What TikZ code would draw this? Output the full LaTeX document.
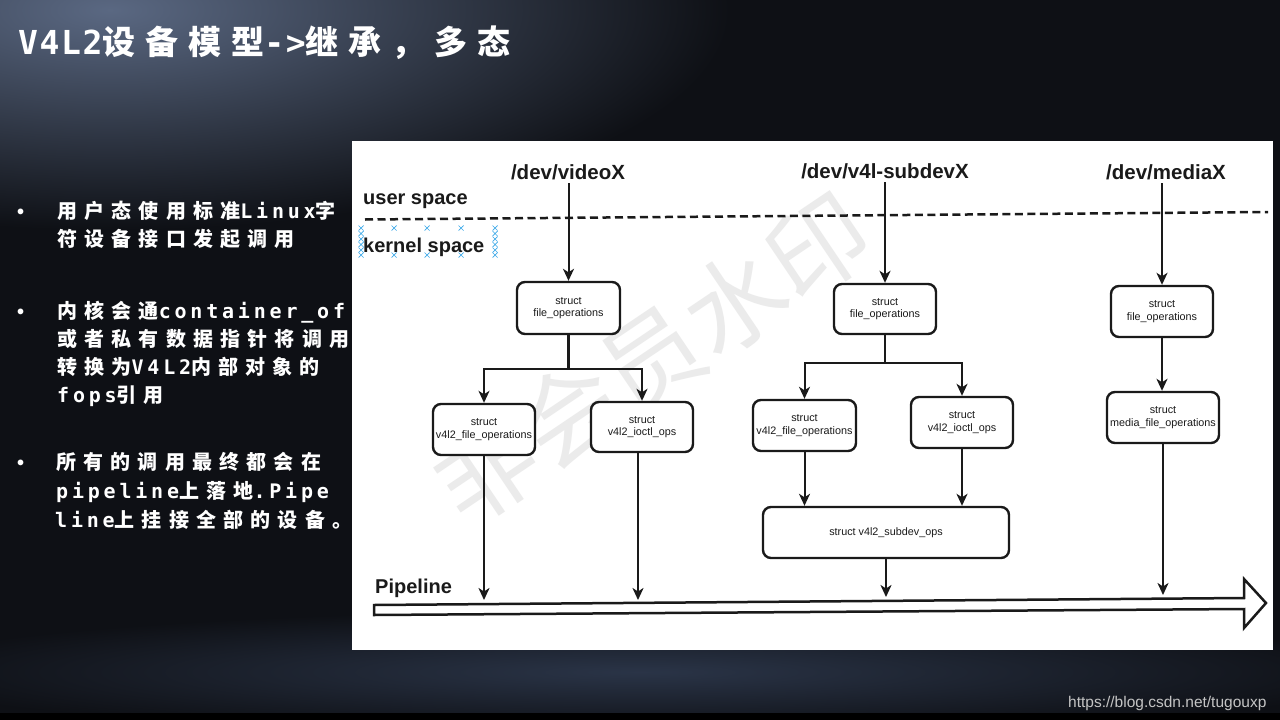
\documentclass[tikz,border=0pt]{standalone}
\usepackage{fontspec}
\usetikzlibrary{arrows.meta}
\setmainfont{Liberation Sans}
\newfontfamily\cjkt{Noto Sans CJK SC}[LetterSpace=30]
\newfontfamily\latt{DejaVu Sans Mono}[LetterSpace=5]
\newfontfamily\cjkb{Noto Sans CJK SC}[LetterSpace=36]
\newfontfamily\latb{DejaVu Sans Mono}[LetterSpace=19]
\newfontfamily\wmfont{Noto Sans CJK SC}
\definecolor{bgdark}{HTML}{0E1015}
\definecolor{bgtl}{HTML}{5A6882}
\definecolor{bgbot}{HTML}{2A3447}
\definecolor{wmgray}{HTML}{EBEBEB}
\definecolor{xblue}{HTML}{3AA8E8}
\definecolor{foot}{HTML}{C4C4C4}
\definecolor{ink}{HTML}{1A1A1A}
\tikzset{
  box/.style={draw=ink, line width=2.4pt, rounded corners=8pt, fill=white,
    align=center, inner sep=0pt, text=ink,
    font=\fontsize{10.8}{12.5}\selectfont},
  hdr/.style={font=\bfseries\fontsize{20.5}{24}\selectfont, text=ink},
  lbl/.style={font=\bfseries\fontsize{20}{24}\selectfont, text=ink, anchor=base west, inner sep=0pt},
  bl/.style={anchor=base west, inner sep=0pt, text=white, font=\bfseries\fontsize{20}{24}\selectfont},
  conn/.style={draw=ink, line width=2.4pt},
  arr/.style={draw=ink, line width=2pt, -{Stealth[length=12pt,width=11pt,inset=3.5pt]}},
}
\begin{document}
\begin{tikzpicture}[x=1pt,y=-1pt]
\useasboundingbox (0,0) rectangle (1280,720);
% background
\begin{scope}
\clip (0,0) rectangle (1280,720);
\fill[bgdark] (0,0) rectangle (1280,720);
\shade[inner color=bgtl, outer color=bgdark] (110,10) ellipse [x radius=620pt, y radius=220pt];
\shade[inner color=bgbot, outer color=bgdark] (640,672) ellipse [x radius=760pt, y radius=62pt];
\fill[black] (0,713) rectangle (1280,720);
\end{scope}
% title
\node[anchor=base west, inner sep=0pt, text=white, font=\bfseries\fontsize{33}{38}\selectfont] (title) at (18,54)
  {{\latt V4L2}{\cjkt 设备模型}{\latt ->}{\cjkt 继承，多态}};
% bullets
\foreach \y/\n in {218.5/d1, 318.5/d2, 469.5/d3} \node[bl] (\n) at (17,\y) {•};
\node[bl] (b1a) at (57,218.5) {{\cjkb 用户态使用标准}{\latb Linux}{\cjkb 字}};
\node[bl] (b1b) at (57,246.5) {{\cjkb 符设备接口发起调用}};
\node[bl] (b2a) at (57,318.5) {{\cjkb 内核会通}{\latb container\_of}};
\node[bl] (b2b) at (57,346.5) {{\cjkb 或者私有数据指针将调用}};
\node[bl] (b2c) at (57,374.5) {{\cjkb 转换为}{\latb V4L2}{\cjkb 内部对象的}};
\node[bl] (b2d) at (57,402.5) {{\latb fops}{\cjkb 引用}};
\node[bl] (b3a) at (56,469.5) {{\cjkb 所有的调用最终都会在}};
\node[bl] (b3b) at (56,498.5) {{\latb pipeline}{\cjkb 上落地}{\latb .Pipe}};
\node[bl] (b3c) at (55,527.5) {{\latb line}{\cjkb 上挂接全部的设备。}};
% footer
\node[anchor=base west, inner sep=0pt, text=foot, font=\fontsize{15.5}{18}\selectfont] (url) at (1068,707) {https://blog.csdn.net/tugouxp};
% panel
\fill[white] (352,141) rectangle (1273,650);
% watermark
\node[rotate=34, text=wmgray, font=\wmfont\fontsize{100}{100}\selectfont] (wm) at (652,358) {非会员水印};
% labels
\node[lbl] (us) at (363,204) {user space};
\node[lbl] (ks) at (363,252.5) {kernel space};
\foreach \x in {361,394,427,461,495} {
  \foreach \y in {228,255} \draw[xblue, line width=0.7pt] (\x-2.5,\y-2.5) -- (\x+2.5,\y+2.5) (\x-2.5,\y+2.5) -- (\x+2.5,\y-2.5);
}
\foreach \x in {361,495} {
  \foreach \y in {233.5,239,244.5,250} \draw[xblue, line width=0.7pt] (\x-2.5,\y-2.5) -- (\x+2.5,\y+2.5) (\x-2.5,\y+2.5) -- (\x+2.5,\y-2.5);
}
\coordinate (dl1) at (365,219.5);
\coordinate (dl2) at (1268,212);
\draw[ink, line width=2.5pt, dash pattern=on 8pt off 4.5pt] (dl1) -- (dl2);
% headers
\node[hdr] (vid) at (568,172) {/dev/videoX};
\node[hdr] (sdv) at (885,171) {/dev/v4l-subdevX};
\node[hdr] (med) at (1166,172) {/dev/mediaX};
% boxes
\node[box, minimum width=103pt, minimum height=52pt] (fo1) at (568.5,308) {struct\\file\_operations};
\node[box, minimum width=102pt, minimum height=51pt] (v4fo1) at (484,429.5) {struct\\v4l2\_file\_operations};
\node[box, minimum width=102pt, minimum height=50pt] (io1) at (642,427) {struct\\v4l2\_ioctl\_ops};
\node[box, minimum width=102pt, minimum height=50pt] (fo2) at (885,309) {struct\\file\_operations};
\node[box, minimum width=103pt, minimum height=51pt] (v4fo2) at (804.5,425.5) {struct\\v4l2\_file\_operations};
\node[box, minimum width=102pt, minimum height=51pt] (io2) at (962,422.5) {struct\\v4l2\_ioctl\_ops};
\node[box, minimum width=246pt, minimum height=51pt] (sub) at (886,532.5) {struct v4l2\_subdev\_ops};
\node[box, minimum width=102pt, minimum height=51pt] (fo3) at (1162,311.5) {struct\\file\_operations};
\node[box, minimum width=112pt, minimum height=51pt] (mfo) at (1163,417.5) {struct\\media\_file\_operations};
% pipeline
\draw[ink, line width=2.5pt, fill=white, line join=miter]
  (374,605) -- (1244,598) -- (1244,579) -- (1266,603) -- (1244,628) -- (1244,609) -- (374,615) -- cycle;
\node[lbl] (pl) at (375,593) {Pipeline};
\coordinate (pA) at (484,600);
\coordinate (pB) at (638,600);
\coordinate (pC) at (886,597);
\coordinate (pD) at (1163,595);
% connectors column 1
\draw[arr] (vid.south -| fo1.north) -- (fo1.north);
\draw[conn] (fo1.south) -- ++(0,34) coordinate (j1);
\draw[arr] (j1) -| (v4fo1.north);
\draw[arr] (j1) -| (io1.north);
\draw[arr] (v4fo1.south) -- (pA);
\draw[arr] (io1.south -| pB) -- (pB);
% column 2
\draw[arr] (sdv.south -| fo2.north) -- (fo2.north);
\draw[conn] (fo2.south) -- ++(0,28) coordinate (j2);
\draw[arr] (j2) -| (v4fo2.north);
\draw[arr] (j2) -| (io2.north);
\draw[arr] (v4fo2.south) -- (v4fo2.south |- sub.north);
\draw[arr] (io2.south) -- (io2.south |- sub.north);
\draw[arr] (sub.south) -- (pC);
% column 3
\draw[arr] (med.south -| fo3.north) -- (fo3.north);
\draw[arr] (fo3.south) -- (fo3.south |- mfo.north);
\draw[arr] (mfo.south) -- (pD);
\end{tikzpicture}
\end{document}
